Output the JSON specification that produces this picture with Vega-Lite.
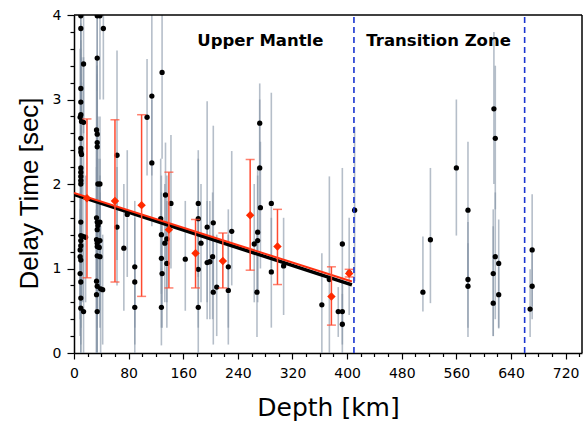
{
  "$schema": "https://vega.github.io/schema/vega-lite/v6.json",
  "width": 508,
  "height": 338,
  "autosize": {"type": "none"},
  "padding": {"left": 74, "top": 15, "right": 3, "bottom": 71},
  "config": {"view": {"stroke": null}, "font": "DejaVu Sans"},
  "datasets": {
    "pts": [
      {"d":10,"t":3.99,"lo":3.2,"hi":4.8},{"d":10,"t":3.84,"lo":3.0,"hi":4.6},{"d":10,"t":3.13,"lo":2.3,"hi":3.9},
      {"d":10,"t":2.97,"lo":2.2,"hi":3.7},{"d":10,"t":2.82,"lo":2.0,"hi":3.6},{"d":9,"t":2.79,"lo":2.0,"hi":3.6},
      {"d":11,"t":2.74,"lo":1.9,"hi":3.5},{"d":10,"t":2.54,"lo":1.8,"hi":3.3},{"d":10,"t":2.42,"lo":1.6,"hi":3.2},
      {"d":10,"t":2.38,"lo":1.6,"hi":3.1},{"d":11,"t":2.35,"lo":1.5,"hi":3.2},{"d":10,"t":2.19,"lo":1.4,"hi":3.0},
      {"d":10,"t":2.14,"lo":1.3,"hi":2.9},{"d":10,"t":2.09,"lo":1.3,"hi":2.9},{"d":10,"t":2.04,"lo":1.2,"hi":2.8},
      {"d":10,"t":2.0,"lo":1.2,"hi":2.8},{"d":10,"t":1.55,"lo":0.8,"hi":2.3},{"d":10,"t":1.39,"lo":0.6,"hi":2.2},
      {"d":10,"t":1.33,"lo":0.6,"hi":2.1},{"d":10,"t":1.27,"lo":0.5,"hi":2.0},{"d":9,"t":1.22,"lo":0.5,"hi":2.0},
      {"d":9,"t":1.14,"lo":0.4,"hi":1.9},{"d":10,"t":1.10,"lo":0.3,"hi":1.9},{"d":9,"t":0.94,"lo":0.2,"hi":1.7},
      {"d":10,"t":0.84,"lo":0.1,"hi":1.6},{"d":10,"t":0.65,"lo":0.0,"hi":1.4},{"d":10,"t":0.53,"lo":0.0,"hi":1.3},
      {"d":14,"t":3.42,"lo":2.6,"hi":4.3},{"d":14,"t":2.73,"lo":2.0,"hi":3.5},{"d":13,"t":1.38,"lo":0.6,"hi":2.2},
      {"d":14,"t":0.49,"lo":0.0,"hi":1.3},{"d":17,"t":1.37,"lo":0.6,"hi":2.1},
      {"d":34,"t":3.99,"lo":3.1,"hi":4.8},{"d":34,"t":3.49,"lo":2.6,"hi":4.4},{"d":33,"t":2.64,"lo":1.8,"hi":3.5},
      {"d":34,"t":2.59,"lo":1.7,"hi":3.4},{"d":34,"t":2.49,"lo":1.6,"hi":3.4},{"d":34,"t":2.44,"lo":1.6,"hi":3.3},
      {"d":35,"t":2.0,"lo":1.2,"hi":2.8},{"d":33,"t":1.60,"lo":0.8,"hi":2.4},{"d":34,"t":1.55,"lo":0.8,"hi":2.3},
      {"d":35,"t":1.51,"lo":0.7,"hi":2.3},{"d":34,"t":1.46,"lo":0.6,"hi":2.3},{"d":33,"t":1.34,"lo":0.5,"hi":2.2},
      {"d":34,"t":1.30,"lo":0.5,"hi":2.1},{"d":34,"t":1.26,"lo":0.4,"hi":2.1},{"d":34,"t":1.15,"lo":0.3,"hi":2.0},
      {"d":33,"t":0.85,"lo":0.0,"hi":1.7},{"d":34,"t":0.79,"lo":0.0,"hi":1.6},{"d":33,"t":0.69,"lo":0.0,"hi":1.5},
      {"d":34,"t":0.49,"lo":0.0,"hi":1.3},
      {"d":38,"t":3.99,"lo":3.0,"hi":4.8},{"d":38,"t":2.0,"lo":1.2,"hi":2.8},{"d":38,"t":1.55,"lo":0.8,"hi":2.3},
      {"d":38,"t":1.33,"lo":0.5,"hi":2.1},{"d":37,"t":1.25,"lo":0.5,"hi":2.0},{"d":38,"t":1.14,"lo":0.3,"hi":1.9},
      {"d":39,"t":0.76,"lo":0.0,"hi":1.5},{"d":43,"t":3.84,"lo":3.0,"hi":4.6},{"d":42,"t":0.75,"lo":0.1,"hi":1.4},
      {"d":63,"t":2.34,"lo":1.1,"hi":3.58},{"d":63,"t":1.49,"lo":0.8,"hi":2.2},{"d":73,"t":1.24,"lo":0.5,"hi":2.0},
      {"d":78,"t":1.64,"lo":0.9,"hi":2.4},{"d":89,"t":1.02,"lo":0.3,"hi":1.8},{"d":89,"t":0.84,"lo":0.1,"hi":1.6},
      {"d":89,"t":0.54,"lo":0.0,"hi":1.1},{"d":107,"t":2.79,"lo":2.1,"hi":3.48},{"d":114,"t":3.04,"lo":2.1,"hi":4.2},
      {"d":114,"t":2.25,"lo":1.5,"hi":3.0},{"d":129,"t":3.32,"lo":2.3,"hi":4.3},{"d":127,"t":1.59,"lo":0.9,"hi":2.3},
      {"d":128,"t":1.40,"lo":0.7,"hi":2.1},{"d":128,"t":1.12,"lo":0.3,"hi":1.9},{"d":129,"t":0.94,"lo":0.3,"hi":1.6},
      {"d":128,"t":0.54,"lo":0.09,"hi":1.0},{"d":134,"t":1.87,"lo":1.1,"hi":2.49},{"d":133,"t":1.30,"lo":0.6,"hi":2.0},
      {"d":136,"t":1.06,"lo":0.3,"hi":1.8},{"d":136,"t":1.35,"lo":0.6,"hi":2.1},{"d":142,"t":1.77,"lo":1.0,"hi":2.58},
      {"d":163,"t":1.11,"lo":0.5,"hi":1.8},{"d":182,"t":1.77,"lo":1.1,"hi":2.4},{"d":182,"t":1.59,"lo":0.9,"hi":2.3},
      {"d":182,"t":0.99,"lo":0.3,"hi":1.7},{"d":182,"t":0.54,"lo":0.0,"hi":1.1},{"d":186,"t":1.30,"lo":0.6,"hi":2.0},
      {"d":195,"t":1.49,"lo":0.6,"hi":2.98},{"d":195,"t":1.07,"lo":0.4,"hi":1.8},{"d":204,"t":1.54,"lo":0.8,"hi":2.69},
      {"d":203,"t":1.14,"lo":0.4,"hi":1.9},{"d":204,"t":0.72,"lo":0.1,"hi":1.4},{"d":199,"t":1.08,"lo":0.4,"hi":1.8},
      {"d":209,"t":0.78,"lo":0.2,"hi":1.4},{"d":226,"t":1.02,"lo":0.3,"hi":1.7},{"d":226,"t":0.74,"lo":0.1,"hi":1.4},
      {"d":231,"t":1.44,"lo":0.8,"hi":2.39},{"d":264,"t":1.29,"lo":0.6,"hi":2.0},{"d":269,"t":1.43,"lo":0.7,"hi":2.2},
      {"d":269,"t":1.33,"lo":0.6,"hi":2.1},{"d":268,"t":0.72,"lo":0.19,"hi":1.4},{"d":272,"t":2.72,"lo":2.2,"hi":3.19},
      {"d":272,"t":2.19,"lo":1.4,"hi":3.0},{"d":273,"t":1.72,"lo":1.0,"hi":2.5},{"d":289,"t":1.77,"lo":1.0,"hi":3.08},
      {"d":289,"t":0.96,"lo":0.3,"hi":1.6},{"d":307,"t":1.03,"lo":0.45,"hi":1.6},{"d":363,"t":0.57,"lo":0.0,"hi":1.18},
      {"d":374,"t":0.87,"lo":0.0,"hi":2.09},{"d":387,"t":0.49,"lo":0.19,"hi":0.78},{"d":393,"t":0.49,"lo":0.1,"hi":0.9},
      {"d":393,"t":1.29,"lo":0.3,"hi":2.19},{"d":393,"t":0.34,"lo":0.0,"hi":0.7},{"d":403,"t":0.95,"lo":0.45,"hi":1.6},
      {"d":411,"t":1.69,"lo":0.85,"hi":2.68},{"d":511,"t":0.72,"lo":0.49,"hi":1.38},{"d":522,"t":1.34,"lo":0.59,"hi":2.19},
      {"d":560,"t":2.19,"lo":1.39,"hi":3.0},{"d":577,"t":1.69,"lo":0.9,"hi":2.5},{"d":577,"t":0.87,"lo":0.19,"hi":1.55},
      {"d":577,"t":0.79,"lo":0.3,"hi":1.3},{"d":615,"t":2.89,"lo":2.0,"hi":3.8},{"d":617,"t":2.54,"lo":1.7,"hi":3.4},
      {"d":617,"t":1.14,"lo":0.4,"hi":1.9},{"d":614,"t":0.94,"lo":0.2,"hi":1.7},{"d":614,"t":0.59,"lo":0.2,"hi":1.5},
      {"d":622,"t":1.06,"lo":0.29,"hi":1.58},{"d":622,"t":0.69,"lo":0.3,"hi":1.1},{"d":668,"t":0.52,"lo":0.19,"hi":0.99},
      {"d":671,"t":1.22,"lo":0.55,"hi":1.88},{"d":671,"t":0.79,"lo":0.4,"hi":1.2}
    ],
    "bins": [
      {"d":19,"t":1.83,"lo":0.89,"hi":2.77},{"d":60,"t":1.80,"lo":0.84,"hi":2.76},{"d":99,"t":1.75,"lo":0.67,"hi":2.82},
      {"d":139,"t":1.46,"lo":0.77,"hi":2.14},{"d":178,"t":1.18,"lo":0.77,"hi":1.58},{"d":218,"t":1.09,"lo":0.77,"hi":1.42},
      {"d":258,"t":1.63,"lo":0.98,"hi":2.29},{"d":298,"t":1.26,"lo":0.81,"hi":1.70},{"d":377,"t":0.67,"lo":0.33,"hi":1.02},
      {"d":403,"t":0.94,"lo":0.90,"hi":0.99}
    ],
    "fit": [
      {"s":"black","d":0,"t":1.876},{"s":"black","d":407,"t":0.807},
      {"s":"red","d":0,"t":1.895},{"s":"red","d":407,"t":0.847}
    ],
    "zones": [{"d":410},{"d":660}],
    "border": [
      {"xa":0,"xb":744,"ya":4,"yb":4},
      {"xa":744,"xb":744,"ya":0,"yb":4}
    ],
    "labels": [
      {"d":273,"t":3.69,"text":"Upper Mantle"},
      {"d":534,"t":3.69,"text":"Transition Zone"}
    ]
  },
  "layer": [
    {
      "data": {"name": "pts"},
      "mark": {"type": "rule", "color": "#8393a5", "opacity": 0.6, "strokeWidth": 1.6, "clip": true},
      "encoding": {
        "x": {"field": "d", "type": "quantitative", "scale": {"domain": [0, 744], "nice": false, "zero": false},
          "axis": {"orient": "bottom", "title": "Depth [km]", "values": [0,20,40,60,80,100,120,140,160,180,200,220,240,260,280,300,320,340,360,380,400,420,440,460,480,500,520,540,560,580,600,620,640,660,680,700,720,740],
            "labelExpr": "datum.value % 80 === 0 ? format(datum.value, 'd') : ''",
            "tickSize": {"condition": {"test": "datum.value % 80 === 0", "value": 6}, "value": 3.5},
            "tickColor": "#000", "tickWidth": 1.2, "domainColor": "#000", "domainWidth": 1.5,
            "labelFontSize": 14, "labelColor": "#000", "labelPadding": 7, "labelFlush": false,
            "titleFontSize": 25, "titleFontWeight": "normal", "titleColor": "#000", "titlePadding": 15, "grid": false}},
        "y": {"field": "lo", "type": "quantitative", "scale": {"domain": [0, 4], "nice": false, "zero": false},
          "axis": {"orient": "left", "title": "Delay Time [sec]", "values": [0,0.2,0.4,0.6,0.8,1,1.2,1.4,1.6,1.8,2,2.2,2.4,2.6,2.8,3,3.2,3.4,3.6,3.8,4],
            "labelExpr": "datum.value % 1 === 0 ? format(datum.value, 'd') : ''",
            "tickSize": {"condition": {"test": "datum.value % 1 === 0", "value": 7}, "value": 4},
            "tickColor": "#000", "tickWidth": 1.2, "domainColor": "#000", "domainWidth": 1.5,
            "labelFontSize": 14, "labelColor": "#000", "labelPadding": 6, "labelFlush": false,
            "titleFont": "Liberation Sans", "titleFontSize": 26, "titleFontWeight": "normal", "titleColor": "#000", "titlePadding": 10, "titleY": 178, "grid": false}},
        "y2": {"field": "hi"}
      }
    },
    {
      "data": {"name": "border"},
      "mark": {"type": "rule", "color": "#000", "strokeWidth": 1.5},
      "encoding": {
        "x": {"field": "xa", "type": "quantitative", "axis": null},
        "x2": {"field": "xb"},
        "y": {"field": "ya", "type": "quantitative", "axis": null},
        "y2": {"field": "yb"}
      }
    },
    {
      "data": {"name": "pts"},
      "mark": {"type": "point", "shape": "circle", "filled": true, "color": "#000", "opacity": 1, "size": 28, "clip": true},
      "encoding": {
        "x": {"field": "d", "type": "quantitative", "axis": null},
        "y": {"field": "t", "type": "quantitative", "axis": null}
      }
    },
    {
      "data": {"name": "fit"},
      "mark": {"type": "line", "clip": true},
      "encoding": {
        "x": {"field": "d", "type": "quantitative", "axis": null},
        "y": {"field": "t", "type": "quantitative", "axis": null},
        "color": {"field": "s", "type": "nominal", "scale": {"domain": ["black", "red"], "range": ["#000000", "#ff3010"]}, "legend": null},
        "strokeWidth": {"field": "s", "type": "nominal", "scale": {"domain": ["black", "red"], "range": [3.5, 2]}, "legend": null}
      }
    },
    {
      "data": {"name": "bins"},
      "mark": {"type": "rule", "color": "#ff4a30", "strokeWidth": 1.5},
      "encoding": {
        "x": {"field": "d", "type": "quantitative", "axis": null},
        "y": {"field": "lo", "type": "quantitative", "axis": null},
        "y2": {"field": "hi"}
      }
    },
    {
      "data": {"name": "bins"},
      "mark": {"type": "tick", "orient": "horizontal", "color": "#ff4a30", "size": 9, "thickness": 1.5},
      "encoding": {
        "x": {"field": "d", "type": "quantitative", "axis": null},
        "y": {"field": "lo", "type": "quantitative", "axis": null}
      }
    },
    {
      "data": {"name": "bins"},
      "mark": {"type": "tick", "orient": "horizontal", "color": "#ff4a30", "size": 9, "thickness": 1.5},
      "encoding": {
        "x": {"field": "d", "type": "quantitative", "axis": null},
        "y": {"field": "hi", "type": "quantitative", "axis": null}
      }
    },
    {
      "data": {"name": "bins"},
      "mark": {"type": "point", "shape": "diamond", "filled": true, "color": "#ff2a00", "opacity": 1, "size": 72},
      "encoding": {
        "x": {"field": "d", "type": "quantitative", "axis": null},
        "y": {"field": "t", "type": "quantitative", "axis": null}
      }
    },
    {
      "data": {"name": "labels"},
      "mark": {"type": "text", "font": "DejaVu Sans", "fontSize": 16.5, "fontWeight": "bold", "color": "#000", "align": "center", "baseline": "middle"},
      "encoding": {
        "x": {"field": "d", "type": "quantitative", "axis": null},
        "y": {"field": "t", "type": "quantitative", "axis": null},
        "text": {"field": "text"}
      }
    },
    {
      "data": {"name": "zones"},
      "mark": {"type": "rule", "color": "#1a35d0", "strokeWidth": 1.6, "strokeDash": [6, 4]},
      "encoding": {
        "x": {"field": "d", "type": "quantitative", "axis": null},
        "y": {"datum": 0, "type": "quantitative", "axis": null},
        "y2": {"datum": 4}
      }
    }
  ],
  "resolve": {"axis": {"x": "independent", "y": "independent"}}
}
